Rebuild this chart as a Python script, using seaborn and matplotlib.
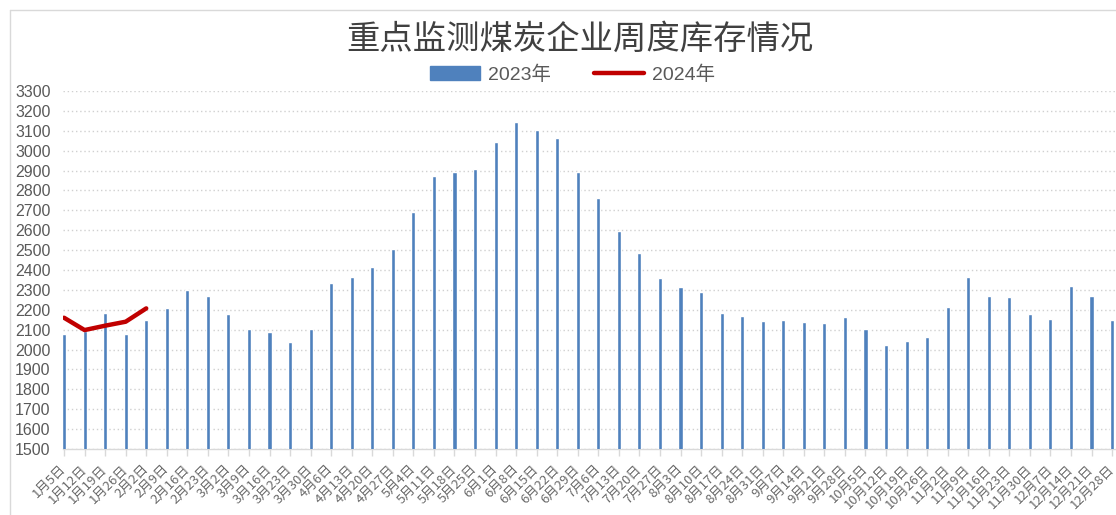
import numpy as np
import matplotlib.pyplot as plt
import seaborn as sns
from matplotlib.lines import Line2D
from matplotlib.patches import Patch

# 数据：2023年各周库存（柱）与2024年（折线）
weeks = ['1月5日', '1月12日', '1月19日', '1月26日', '2月2日', '2月9日', '2月16日', '2月23日',
         '3月2日', '3月9日', '3月16日', '3月23日', '3月30日', '4月6日', '4月13日', '4月20日',
         '4月27日', '5月4日', '5月11日', '5月18日', '5月25日', '6月1日', '6月8日', '6月15日',
         '6月22日', '6月29日', '7月6日', '7月13日', '7月20日', '7月27日', '8月3日', '8月10日',
         '8月17日', '8月24日', '8月31日', '9月7日', '9月14日', '9月21日', '9月28日', '10月5日',
         '10月12日', '10月19日', '10月26日', '11月2日', '11月9日', '11月16日', '11月23日',
         '11月30日', '12月7日', '12月14日', '12月21日', '12月28日']

stock_2023 = [2080, 2095, 2182, 2076, 2150, 2210, 2298, 2271, 2179, 2103, 2090, 2040, 2103,
              2334, 2366, 2417, 2505, 2690, 2871, 2893, 2908, 3045, 3142, 3102, 3062, 2893,
              2760, 2595, 2484, 2358, 2316, 2288, 2182, 2169, 2144, 2147, 2137, 2133, 2163,
              2103, 2021, 2043, 2063, 2216, 2365, 2269, 2266, 2177, 2155, 2321, 2269, 2148]

stock_2024 = [2160, 2098, 2120, 2140, 2207]

BLUE = '#4F81BD'
RED = '#C00000'
GRAY = '#595959'

sns.set_theme(style='white')
plt.rcParams['font.family'] = ['Liberation Sans', 'Noto Sans CJK SC', 'DejaVu Sans']

fig = plt.figure(figsize=(11.16, 5.15), dpi=100)
ax = fig.add_axes([63 / 1116, 66 / 515, (1116 - 63) / 1116, (449 - 91) / 515])

sns.barplot(x=weeks, y=stock_2023, color=BLUE, saturation=1, width=0.2, ax=ax, zorder=3)
sns.lineplot(x=np.arange(len(stock_2024)), y=stock_2024, color=RED, linewidth=3.2, ax=ax,
             zorder=4, solid_capstyle='round', solid_joinstyle='round')

ax.set_xlim(-0.05, 51.19)
ax.set_ylim(1500, 3300)
ax.set_yticks(range(1500, 3301, 100))
ax.yaxis.grid(True, linestyle=(0, (1, 2)), color='#D0D0D0', linewidth=1)
ax.set_axisbelow(True)
for s in ['left', 'right', 'top']:
    ax.spines[s].set_visible(False)
ax.spines['bottom'].set_color('#D9D9D9')
ax.spines['bottom'].set_linewidth(1)

ax.tick_params(axis='y', length=0, pad=9, labelsize=11.5, labelcolor=GRAY)
ax.tick_params(axis='x', bottom=True, length=5, width=1, color='#D9D9D9', pad=8)
ax.set_xticks(range(len(weeks)))
ax.set_xticklabels(weeks, rotation=45, ha='right', va='center', rotation_mode='anchor',
                   fontsize=9.5, color='#6A6A6A', family='Noto Sans CJK SC')
ax.set_xlabel('')
ax.set_ylabel('')

fig.text(0.52, 0.924, '重点监测煤炭企业周度库存情况', ha='center', va='center',
         fontsize=24, color='#404040', family='Noto Sans CJK SC')

handles = [Patch(color=BLUE, label='2023年'),
           Line2D([], [], color=RED, lw=3.2, label='2024年')]
fig.legend(handles=handles, loc='center', bbox_to_anchor=(0.513, 0.855), ncol=2,
           frameon=False, fontsize=14, handlelength=2.6, handletextpad=0.4,
           columnspacing=2.2, labelcolor=GRAY)

# 图表外框（左、上）
fig.add_artist(Line2D([10 / 1116, 10 / 1116], [0, 1 - 10 / 515], transform=fig.transFigure,
                      color='#D9D9D9', lw=1))
fig.add_artist(Line2D([10 / 1116, 1], [1 - 10 / 515, 1 - 10 / 515], transform=fig.transFigure,
                      color='#D9D9D9', lw=1))

fig.savefig('out.png', dpi=100)
